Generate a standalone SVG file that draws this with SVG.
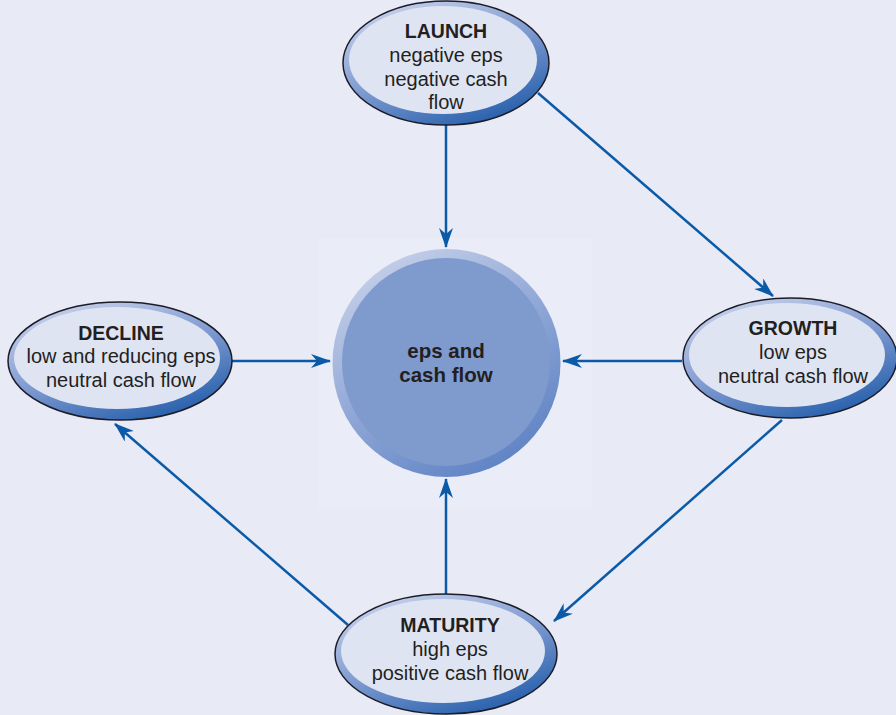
<svg xmlns="http://www.w3.org/2000/svg" width="896" height="715" viewBox="0 0 896 715">
<defs>
<linearGradient id="ring" x1="0.2" y1="0" x2="0.8" y2="1">
<stop offset="0" stop-color="#c9d3ec"/>
<stop offset="0.5" stop-color="#7d99d0"/>
<stop offset="1" stop-color="#1e5aa8"/>
</linearGradient>
<linearGradient id="cring" x1="0.2" y1="0" x2="0.8" y2="1">
<stop offset="0" stop-color="#c8d2ea"/>
<stop offset="0.5" stop-color="#8ea6d6"/>
<stop offset="1" stop-color="#5a7fc2"/>
</linearGradient>
<marker id="ah" viewBox="0 0 20 14" refX="19" refY="7" markerWidth="20" markerHeight="14" markerUnits="userSpaceOnUse" orient="auto">
<path d="M0,0 L20,7 L0,14 L6,7 Z" fill="#0b5aa8"/>
</marker>
</defs>
<style>
.bg{fill:#e8ebf6}
.outer{fill:url(#ring);stroke:#1c1c28;stroke-width:1.5}
.inner{fill:#dfe4f3}
.t{font-family:"Liberation Sans",Arial,sans-serif;font-size:20px;fill:#231f20;text-anchor:middle}
.b{font-weight:bold;font-size:19.5px}
.cb{font-size:20.5px}
.c{fill:none;stroke:#0b5aa8;stroke-width:2.5;marker-end:url(#ah)}
</style>
<rect class="bg" x="0" y="0" width="896" height="715"/>
<rect x="318" y="238" width="274" height="270" fill="#eaedf7"/>
<g id="connectors">
<line class="c" x1="446" y1="125" x2="446" y2="247"/>
<line class="c" x1="538" y1="93" x2="773" y2="296"/>
<line class="c" x1="682" y1="361" x2="563" y2="361"/>
<line class="c" x1="782" y1="420" x2="554" y2="621"/>
<line class="c" x1="446" y1="596" x2="446" y2="479"/>
<line class="c" x1="348" y1="625" x2="115" y2="424"/>
<line class="c" x1="232" y1="361" x2="330" y2="361"/>
</g>
<g id="center">
<circle cx="446.5" cy="363" r="114" fill="url(#cring)"/>
<circle cx="446" cy="362" r="104" fill="#7f9acc"/>
<text class="t b cb" x="446" y="358">eps and</text>
<text class="t b cb" x="446" y="382">cash flow</text>
</g>
<g id="launch">
<ellipse class="outer" cx="446" cy="63" rx="103" ry="62"/>
<ellipse class="inner" cx="443" cy="60" rx="94" ry="54"/>
<text class="t b" x="446" y="38">LAUNCH</text>
<text class="t" x="446" y="62">negative eps</text>
<text class="t" x="446" y="86">negative cash</text>
<text class="t" x="446" y="109">flow</text>
</g>
<g id="growth">
<ellipse class="outer" cx="790" cy="358" rx="107" ry="60"/>
<ellipse class="inner" cx="787" cy="355" rx="98" ry="52"/>
<text class="t b" x="793" y="335">GROWTH</text>
<text class="t" x="793" y="359">low eps</text>
<text class="t" x="793" y="383">neutral cash flow</text>
</g>
<g id="decline">
<ellipse class="outer" cx="120" cy="361" rx="112" ry="59"/>
<ellipse class="inner" cx="117" cy="358" rx="103" ry="51"/>
<text class="t b" x="121" y="340">DECLINE</text>
<text class="t" x="121" y="363">low and reducing eps</text>
<text class="t" x="121" y="387">neutral cash flow</text>
</g>
<g id="maturity">
<ellipse class="outer" cx="446" cy="654" rx="111" ry="60"/>
<ellipse class="inner" cx="443" cy="651" rx="102" ry="52"/>
<text class="t b" x="450" y="632">MATURITY</text>
<text class="t" x="450" y="656">high eps</text>
<text class="t" x="450" y="680">positive cash flow</text>
</g>
</svg>
